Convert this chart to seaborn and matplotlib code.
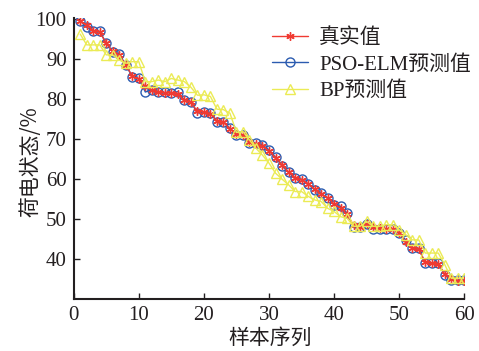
import numpy as np
import pandas as pd
import matplotlib
matplotlib.use("Agg")
import matplotlib.pyplot as plt
import seaborn as sns

samples = list(range(1, 61))
true_vals = [99.6, 98.6, 97.2, 96.8, 94.0, 92.0, 91.0, 88.6, 85.8, 85.0,
             83.2, 82.3, 81.8, 81.6, 81.5, 81.2, 79.8, 79.2, 77.0, 76.8,
             76.4, 74.6, 74.2, 72.6, 71.3, 71.0, 69.2, 68.8, 68.2, 67.0,
             65.4, 63.6, 61.8, 60.4, 59.8, 58.9, 57.6, 56.2, 55.4, 53.8,
             52.8, 51.2, 48.4, 48.0, 48.8, 48.0, 47.8, 47.4, 47.6, 46.6,
             44.2, 42.8, 42.4, 39.2, 39.0, 38.8, 36.2, 35.0, 34.6, 34.5]
pso_vals = [99.6, 98.0, 97.2, 97.0, 94.0, 91.9, 91.3, 88.6, 85.6, 85.2,
            81.8, 82.4, 81.7, 81.7, 81.6, 81.9, 79.8, 79.4, 76.5, 76.9,
            76.5, 74.4, 74.4, 72.7, 71.1, 71.1, 69.0, 69.0, 68.6, 67.3,
            65.5, 63.3, 61.7, 60.2, 60.0, 58.8, 57.3, 56.5, 55.2, 53.6,
            53.2, 51.5, 48.0, 48.0, 48.8, 47.6, 47.5, 47.5, 47.5, 46.5,
            44.8, 42.7, 42.7, 39.0, 39.0, 39.0, 36.0, 34.7, 34.7, 34.7]
bp_vals = [96.3, 93.6, 93.6, 93.6, 91.1, 91.1, 89.8, 89.0, 89.4, 89.4,
           84.4, 84.4, 84.8, 84.4, 85.2, 84.8, 84.4, 83.0, 81.0, 81.1,
           80.7, 77.5, 77.4, 76.5, 71.7, 71.9, 69.8, 67.7, 66.0, 64.0,
           61.5, 60.0, 58.6, 56.9, 56.9, 55.7, 54.8, 54.4, 52.7, 51.9,
           50.6, 50.2, 48.2, 48.2, 49.4, 48.2, 48.2, 48.6, 48.6, 47.3,
           46.1, 44.8, 44.8, 41.5, 41.5, 41.5, 38.6, 35.2, 35.2, 35.2]
series_names = ["真实值", "PSO-ELM预测值", "BP预测值"]
x_ticks = [0, 10, 20, 30, 40, 50, 60]
y_ticks = [40, 50, 60, 70, 80, 90, 100]

sns.set_theme(style="white")
plt.rcParams['font.family'] = ['Liberation Serif', 'Noto Sans CJK SC']
plt.rcParams['axes.unicode_minus'] = False

df = pd.DataFrame({
    "x": samples * 3,
    "y": true_vals + pso_vals + bp_vals,
    "s": [series_names[0]] * 60 + [series_names[1]] * 60 + [series_names[2]] * 60,
})

W, H = 479, 351
fig = plt.figure(figsize=(4.79, 3.51), dpi=100)
x0, x1, y0, y1 = 73.7, 464.3, 299, 18
ax = fig.add_axes([x0 / W, 1 - y0 / H, (x1 - x0) / W, (y0 - y1) / H])

styles = {
    series_names[0]: dict(color="#f03a32", marker=(6, 2, 0), markersize=6, mew=1.0, zorder=3),
    series_names[1]: dict(color="#2b5bb0", marker="o", markersize=6.5, mfc="none", mew=1.0, zorder=2),
    series_names[2]: dict(color="#ebeb55", marker="^", markersize=7.5, mfc="none", mew=1.0, zorder=4),
}
for name in series_names:
    sub = df[df["s"] == name]
    st = styles[name]
    sns.lineplot(data=sub, x="x", y="y", ax=ax, label=name, color=st["color"],
                 marker=st["marker"], markersize=st["markersize"],
                 markerfacecolor=st.get("mfc", st["color"]),
                 markeredgecolor=st["color"], markeredgewidth=st["mew"],
                 linewidth=1.0, zorder=st["zorder"])

ax.set_xlim(0, 60)
ax.set_ylim(30, 100.33)
ax.set_xticks(x_ticks)
ax.set_yticks(y_ticks)
for s in ["top", "right"]:
    ax.spines[s].set_visible(False)
for s in ["left", "bottom"]:
    ax.spines[s].set_color("#231f20")
    ax.spines[s].set_linewidth(1.5)
ax.tick_params(direction="in", length=4, width=1.0, colors="#231f20",
               labelsize=15, left=True, bottom=True, pad=5)
for lab in ax.get_xticklabels() + ax.get_yticklabels():
    lab.set_color("#231f20")
ax.set_xlabel("样本序列", fontsize=15, color="#231f20",
              family=['Noto Sans CJK SC'])
ax.set_ylabel("荷电状态/%", fontsize=15, color="#231f20",
              family=['Noto Sans CJK SC', 'DejaVu Sans'])
ax.xaxis.set_label_coords((270 - x0) / (x1 - x0), (y0 - 338) / (y0 - y1))
ax.xaxis.label.set_va("center")
ax.yaxis.set_label_coords((30 - x0) / (x1 - x0), (y0 - 162) / (y0 - y1))
ax.yaxis.label.set_va("center")

leg = ax.legend(loc="upper left", bbox_to_anchor=(272 / W, 1 - 28 / H),
                bbox_transform=fig.transFigure, frameon=False,
                handlelength=1.75, handletextpad=0.5,
                labelspacing=0.34, borderpad=0, borderaxespad=0,
                prop={'family': ['Liberation Serif', 'Noto Sans CJK SC'], 'size': 15})
for t in leg.get_texts():
    t.set_color("#231f20")

fig.savefig("out.png", dpi=100)
